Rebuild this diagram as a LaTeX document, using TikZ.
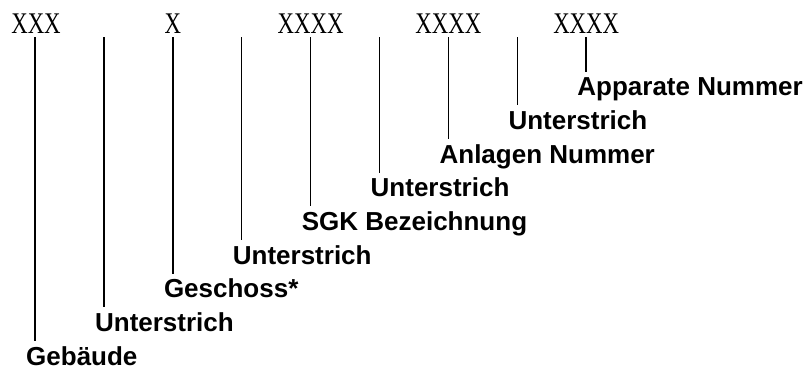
\documentclass[tikz,border=0pt]{standalone}
\usepackage{fontspec}
\setmainfont{Liberation Serif}
\newfontfamily\lblfont{Liberation Sans}
\begin{document}
\begin{tikzpicture}[x=1pt,y=-1pt,
  code/.style={inner sep=0pt,anchor=base,font=\fontsize{30}{30}\selectfont},
  lbl/.style={inner sep=0pt,text depth=0pt,anchor=base west,font=\lblfont\bfseries\fontsize{26}{26}\selectfont},
  tick/.style={line width=1.5pt}]
\useasboundingbox (0,0) rectangle (805,368);
% top codes
\node[code] (c1) at (36,33) {\scalebox{0.76}[1]{XXX}};
\node[code] (c2) at (172.8,33) {\scalebox{0.76}[1]{X}};
\node[code] (c3) at (310.6,33) {\scalebox{0.76}[1]{XXXX}};
\node[code] (c4) at (448.4,33) {\scalebox{0.76}[1]{XXXX}};
\node[code] (c5) at (586.2,33) {\scalebox{0.76}[1]{XXXX}};
% ticks and labels
\foreach \k/\txt in {0/Gebäude,1/Unterstrich,2/Geschoss*,3/Unterstrich,4/SGK Bezeichnung,5/Unterstrich,6/Anlagen Nummer,7/Unterstrich,8/Apparate Nummer}{
  \pgfmathsetmacro{\xx}{35+68.9*\k}
  \pgfmathsetmacro{\bb}{365-33.65*\k}
  \coordinate (t\k) at (\xx,37);
  \coordinate (e\k) at (\xx,\bb-24);
  \node[lbl] (l\k) at (\xx-9,\bb) {\txt};
  \draw[tick] (t\k) -- (e\k);
}
\end{tikzpicture}
\end{document}
